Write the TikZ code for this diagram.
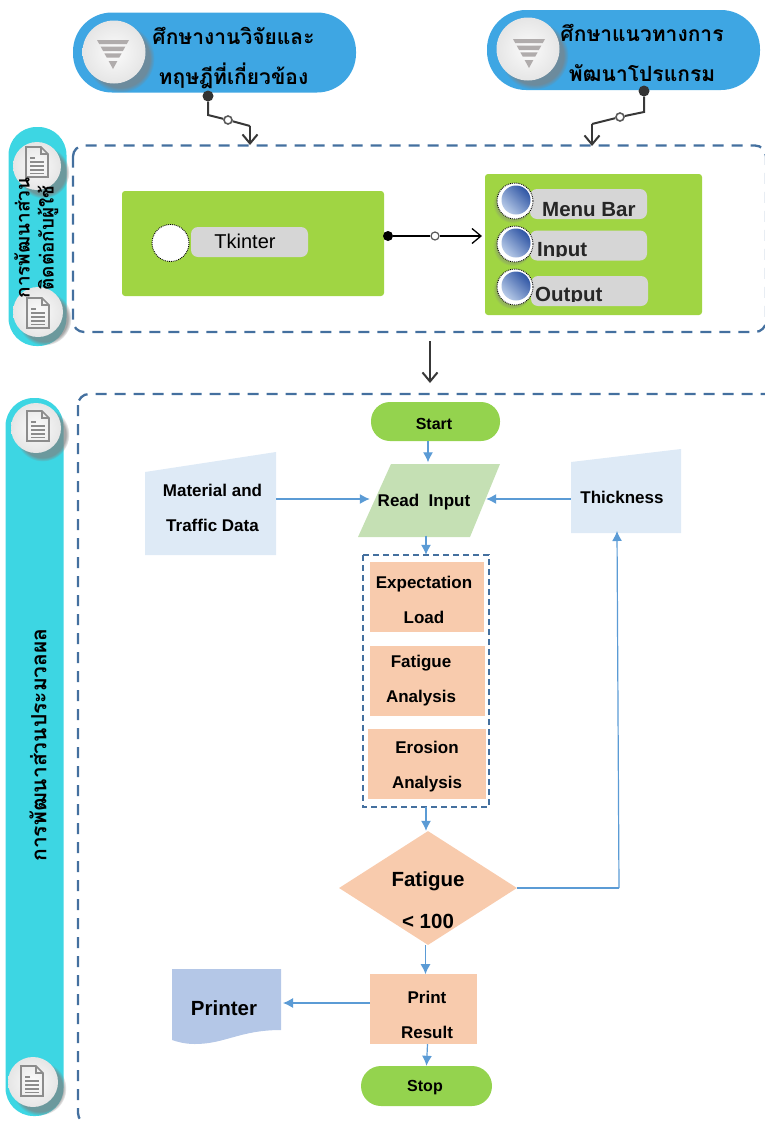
\documentclass[tikz,border=0pt]{standalone}
\usepackage{fontspec}
\setmainfont{Liberation Sans}
\newfontfamily\thaifont[Script=Thai]{Loma}
\usetikzlibrary{arrows.meta,shapes.geometric,shadows}
\definecolor{pillblue}{HTML}{3EA6E3}
\definecolor{sidecyan}{HTML}{3DD6E3}
\definecolor{boxgreen}{HTML}{A0D543}
\definecolor{startgreen}{HTML}{94D34E}
\definecolor{barblue}{HTML}{5B9BD5}
\definecolor{framedash}{HTML}{44709F}
\definecolor{peach}{HTML}{F8CBAD}
\definecolor{readgreen}{HTML}{C5E0B4}
\definecolor{paleblue}{HTML}{DEEAF6}
\definecolor{printblue}{HTML}{B4C7E7}
\definecolor{btndark}{HTML}{2F55A4}
\definecolor{btnlight}{HTML}{B8CBE8}
\definecolor{iconleft}{HTML}{B0ACAC}
\definecolor{icongrey}{HTML}{8C8C8C}
\tikzset{
  pill/.style={fill=pillblue,rounded corners=39pt,minimum height=80pt,inner sep=0},
  sidebar/.style={fill=sidecyan,minimum width=58pt,inner sep=0},
  knob/.style={circle,inner sep=0,inner color=white!97!gray,outer color=black!10,
    circular drop shadow={shadow xshift=6pt,shadow yshift=-6pt,opacity=0.7,shadow scale=1.08}},
  greenbox/.style={fill=boxgreen,rounded corners=3pt,inner sep=0},
  greybar/.style={fill=black!16,rounded corners=7pt,minimum height=30pt,inner sep=0},
  dot/.style={circle,fill=black!80,inner sep=0,minimum size=11pt},
  ringdot/.style={circle,draw=black!65,fill=white,line width=1.6pt,inner sep=0,minimum size=8pt},
  wire/.style={draw=black!78,line width=2pt},
  dashframe/.style={draw=framedash,line width=2.3pt,dash pattern=on 11pt off 8pt,rounded corners=11pt},
  flow/.style={draw=barblue,line width=1.2pt,-{Latex[length=10pt,width=10pt]}},
  peachbox/.style={fill=peach,inner sep=0},
  flowtxt/.style={font=\fontsize{17}{35}\selectfont\bfseries,align=center,inner sep=0},
  smalltxt/.style={font=\fontsize{16}{35}\selectfont\bfseries},
  thaititle/.style={font=\thaifont\fontsize{21}{40}\selectfont\bfseries,align=center,inner sep=0},
  thaiside/.style={font=\thaifont\fontsize{19}{23}\selectfont\bfseries,rotate=90,inner sep=0},
  bluebtn/.style={circle,draw=black,line width=0.9pt,densely dotted,fill=white,minimum size=36pt,inner sep=0,
    circular drop shadow={shadow xshift=-2pt,shadow yshift=-2pt,opacity=0.4}},
  btncore/.style={circle,minimum size=29pt,inner sep=0,left color=btndark,right color=btnlight,shading angle=-45},
  funnel/.pic={
    \fill[iconleft] (-16,-14) -- (16,-14) -- (13.8,-10) -- (-13.8,-10) -- cycle;
    \fill[iconleft] (-12.3,-7.3) -- (12.3,-7.3) -- (9.9,-3) -- (-9.9,-3) -- cycle;
    \fill[iconleft] (-8.7,-0.7) -- (8.7,-0.7) -- (6.2,3.7) -- (-6.2,3.7) -- cycle;
    \fill[iconleft] (-4.4,7) -- (4.4,7) -- (0,15) -- cycle;
  },
  docsheet/.pic={
    \draw[icongrey,line width=1.6pt] (-11,-15) -- (4,-15) -- (11,-8) -- (11,15) -- (-11,15) -- cycle;
    \draw[icongrey,line width=1.2pt] (4,-15) -- (4,-8) -- (11,-8);
    \draw[icongrey,line width=1.4pt] (-7,-4) -- (-2,-4);
    \draw[icongrey,line width=1.4pt] (-7,0) -- (7,0);
    \draw[icongrey,line width=1.4pt] (-7,4) -- (7,4);
    \draw[icongrey,line width=1.4pt] (-7,8) -- (7,8);
    \draw[icongrey,line width=1.4pt] (-7,11.5) -- (7,11.5);
  }
}
\begin{document}
\begin{tikzpicture}[x=1pt,y=-1pt,>={Straight Barb[length=9pt,width=15pt]}]
\useasboundingbox (0,0) rectangle (765,1122);
% top pills
\node[pill,minimum width=283pt] (study) at (214.5,52.5) {};
\node[knob,minimum size=63pt] (studyknob) at (114,52) {};
\pic at (113,54) {funnel};
\node[thaititle] (studytxt) at (233.5,58) {ศึกษางานวิจัยและ\\ทฤษฎีที่เกี่ยวข้อง};
\node[pill,minimum width=273pt] (guide) at (623.5,50) {};
\node[knob,minimum size=63pt] (guideknob) at (528,49) {};
\pic at (529,53) {funnel};
\node[thaititle] (guidetxt) at (642,53) {ศึกษาแนวทางการ\\พัฒนาโปรแกรม};
% side bars
\node[sidebar,rounded corners=28pt,minimum height=219pt] (uibar) at (37.5,236.5) {};
\node[knob,minimum size=48pt] (uitop) at (37,166) {};
\pic at (37,162) {docsheet};
\node[knob,minimum size=50pt] (uibot) at (38,312) {};
\pic at (38,313) {docsheet};
\node[sidebar,rounded corners=28pt,minimum height=718pt] (procbar) at (34.5,757) {};
\node[knob,minimum size=50pt] (proctop) at (36,428) {};
\pic at (38,426) {docsheet};
\node[knob,minimum size=50pt] (procbot) at (33,1082) {};
\pic at (32,1081) {docsheet};
\node[thaiside] (uitxta) at (22,238) {การพัฒนาส่วน};
\node[thaiside] (uitxtb) at (48,238) {ติดต่อกับผู้ใช้};
\node[thaiside,font=\thaifont\fontsize{21}{25}\selectfont\bfseries] (proctxt) at (38,745) {การพัฒนาส่วนประมวลผล};
% dashed frames
\draw[dashframe] (73,145.5) rectangle (766,332);
\draw[dashframe] (78,394) rectangle (800,1124);
% upper boxes
\node[greenbox,minimum width=262pt,minimum height=105pt] (tkbox) at (253,243.5) {};
\node[circle,draw=black,line width=0.9pt,densely dotted,fill=white,minimum size=37pt,inner sep=0] (tkdot) at (170.5,243) {};
\node[greybar,minimum width=117pt] (tkbar) at (249.5,242) {};
\node[inner sep=0,font=\fontsize{20}{24}\selectfont] (tktxt) at (245,241) {Tkinter};
\node[greenbox,minimum width=217pt,minimum height=141pt] (uibox) at (593.5,244.5) {};
\node[greybar,minimum width=117pt] (menubar) at (588.5,204) {};
\node[greybar,minimum width=117pt] (inputbar) at (588.5,245.5) {};
\node[greybar,minimum width=117pt] (outputbar) at (589.5,291) {};
\node[bluebtn] (menubtn) at (515,201) {};
\node[btncore] at (516,200) {};
\node[bluebtn] (inputbtn) at (515,244) {};
\node[btncore] at (516,243) {};
\node[bluebtn] (outputbtn) at (515,287) {};
\node[btncore] at (516,286) {};
\begin{scope}
\clip (530,190) rectangle (650,216.5);
\node[anchor=base west,inner sep=0,font=\fontsize{20.5}{24}\selectfont\bfseries,text=black!85] (menutxt) at (542,216) {Menu Bar};
\end{scope}
\begin{scope}
\clip (530,232) rectangle (650,256);
\node[anchor=base west,inner sep=0,font=\fontsize{20.5}{24}\selectfont\bfseries,text=black!85] (inputtxt) at (537,256) {Input};
\end{scope}
\begin{scope}
\clip (530,277) rectangle (650,301);
\node[anchor=base west,inner sep=0,font=\fontsize{20.5}{24}\selectfont\bfseries,text=black!85] (outputtxt) at (535,301) {Output};
\end{scope}
% wires
\node[dot] (studydot) at (208,96) {};
\node[ringdot] (studyring) at (228,120) {};
\coordinate (studyturn) at (208,115);
\coordinate (studyelb) at (250,126);
\coordinate (studyend) at (250,145);
\draw[wire] (studydot) -- (studyturn) -- (studyring) -- (studyelb);
\draw[wire,->] (studyelb) -- (studyend);
\node[dot] (guidedot) at (644,91) {};
\node[ringdot] (guidering) at (620,117) {};
\coordinate (guideturn) at (644,112);
\coordinate (guideelb) at (592,124);
\coordinate (guideend) at (592,146);
\draw[wire] (guidedot) -- (guideturn) -- (guidering) -- (guideelb);
\draw[wire,->] (guideelb) -- (guideend);
\node[dot,fill=black,minimum size=10pt] (tkdotb) at (388,236) {};
\node[ringdot,line width=1.2pt] (tkring) at (435,236) {};
\coordinate (uiend) at (482,236);
\draw[line width=1.3pt] (tkdotb) -- (tkring);
\draw[line width=1.3pt,->] (tkring) -- (uiend);
\coordinate (downa) at (430,341);
\coordinate (downb) at (430,383);
\draw[wire,->] (downa) -- (downb);
% flow chart
\node[fill=startgreen,rounded corners=19pt,minimum width=129pt,minimum height=39pt,inner sep=0] (start) at (435.5,421.5) {};
\node[flowtxt,smalltxt] (starttxt) at (434,424) {Start};
\fill[readgreen] (391,464) -- (500,464) -- (470,537) -- (358,537) -- cycle;
\node[flowtxt,minimum width=116pt,minimum height=73pt] (readin) at (428,499) {};
\node[flowtxt] (readtxt) at (424,502) {Read\ \ Input};
\fill[paleblue] (145,472) -- (276,452) -- (276,555) -- (145,555) -- cycle;
\node[flowtxt,minimum width=131pt] (matl) at (210.5,507) {};
\node[flowtxt] (matltxt) at (212.5,508) {Material and\\Traffic Data};
\fill[paleblue] (571,462) -- (681,449) -- (681,533) -- (571,533) -- cycle;
\node[flowtxt,minimum width=102pt] (thick) at (622,497) {Thickness};
\draw[framedash,line width=1.8pt,dash pattern=on 6pt off 4pt] (363,555) rectangle (489,807);
\node[minimum width=126pt,minimum height=252pt,inner sep=0] (calc) at (426,681) {};
\node[peachbox,minimum width=114pt,minimum height=70pt] (load) at (427,597) {};
\node[flowtxt] (loadtxt) at (424,600) {Expectation\\Load};
\node[peachbox,minimum width=115pt,minimum height=70pt] (fatana) at (427.5,681) {};
\node[flowtxt] (fatanatxt) at (421,681) {Fatigue\\Analysis};
\node[peachbox,minimum width=118pt,minimum height=70pt] (erosion) at (427,764) {};
\node[flowtxt] (erosiontxt) at (427,767) {Erosion\\Analysis};
\node[diamond,fill=peach,aspect=1.56,minimum width=178pt,minimum height=114pt,inner sep=0] (fatigue) at (428,888) {};
\node[flowtxt,font=\fontsize{20.5}{42}\selectfont\bfseries] (fatiguetxt) at (428,900) {Fatigue\\< 100};
\node[peachbox,minimum width=107pt,minimum height=70pt] (print) at (423.5,1009) {};
\node[flowtxt] (printtxt) at (427,1015) {Print\\Result};
\fill[printblue] (172,969) -- (281,969) -- (281,1030) .. controls (240,1030) and (225,1044) .. (195,1044) .. controls (185,1044) and (178,1042) .. (172,1040) -- cycle;
\node[flowtxt,font=\fontsize{20.5}{24}\selectfont\bfseries] (printer) at (224,1008) {Printer};
\coordinate (printin) at (283,1003);
\node[fill=startgreen,rounded corners=20pt,minimum width=131pt,minimum height=40pt,inner sep=0] (stop) at (426.5,1086) {};
\node[flowtxt,smalltxt] (stoptxt) at (425,1088) {Stop};
\draw[flow] (readin.north |- start.south) -- (readin.north);
\draw[flow] (matl.east |- readin.west) -- (readin.west);
\draw[flow] (thick.west |- readin.east) -- (readin.east);
\draw[flow] (calc.north |- readin.south) -- (calc.north);
\draw[flow] (calc.south) -- (calc.south |- fatigue.north);
\draw[flow] (fatigue.south -| print.north) ++(2,0) -- ++(0,29);
\coordinate (turn) at (619,888);
\coordinate (thickin) at (617,531);
\draw[barblue,line width=1.2pt] (fatigue.east) -- (turn);
\draw[flow] (turn) -- (thickin);
\draw[flow] (print.west |- printin) -- (printin);
\draw[flow] (print.south -| stop.south) ++(1,0) -- (stop.north);
\end{tikzpicture}
\end{document}
